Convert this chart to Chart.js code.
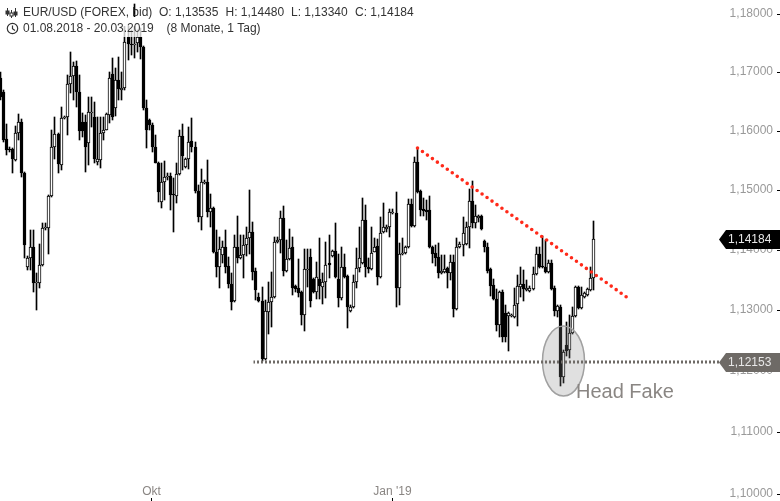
<!DOCTYPE html>
<html>
<head>
<meta charset="utf-8">
<title>EUR/USD</title>
<script src="https://cdn.jsdelivr.net/npm/chart.js@4/dist/chart.umd.js"></script>
<style>
    html, body { margin: 0; padding: 0; background: #fff; }
    canvas { display: block; }
</style>
</head>
<body>
<canvas id="chart" width="780" height="501"></canvas>
<script>
// daily candles, 01.08.2018 - 20.03.2019
var opens = [
    1.1690,1.1667,1.1587,1.1570,1.1570,1.1551,1.1597,1.1616,1.1529,1.1372,
    1.1387,1.1405,1.1345,1.1345,1.1375,1.1437,1.1437,1.1490,1.1573,1.1595,
    1.1543,1.1622,1.1624,1.1680,1.1694,1.1711,1.1667,1.1616,1.1616,1.1580,
    1.1631,1.1624,1.1548,1.1551,1.1597,1.1602,1.1628,1.1697,1.1639,1.1687,
    1.1670,1.1673,1.1761,1.1749,1.1747,1.1751,1.1761,1.1744,1.1639,1.1619,
    1.1611,1.1573,1.1546,1.1480,1.1514,1.1522,1.1524,1.1494,1.1490,1.1528,
    1.1592,1.1539,1.1553,1.1583,1.1573,1.1499,1.1455,1.1512,1.1514,1.1464,
    1.1470,1.1397,1.1372,1.1392,1.1405,1.1373,1.1344,1.1315,1.1405,1.1387,
    1.1392,1.1408,1.1420,1.1430,1.1365,1.1322,1.1315,1.1220,1.1297,1.1314,
    1.1322,1.1413,1.1417,1.1454,1.1365,1.1385,1.1405,1.1340,1.1337,1.1330,
    1.1292,1.1367,1.1388,1.1352,1.1330,1.1352,1.1339,1.1347,1.1378,1.1390,
    1.1398,1.1352,1.1320,1.1372,1.1357,1.1299,1.1305,1.1347,1.1370,1.1378,
    1.1450,1.1372,1.1368,1.1397,1.1407,1.1355,1.1430,1.1435,1.1439,1.1462,
    1.1462,1.1337,1.1393,1.1395,1.1405,1.1477,1.1440,1.1548,1.1499,1.1469,
    1.1467,1.1467,1.1405,1.1395,1.1388,1.1362,1.1363,1.1370,1.1362,1.1380,
    1.1302,1.1405,1.1408,1.1410,1.1439,1.1482,1.1445,1.1454,1.1457,1.1415,
    1.1405,1.1368,1.1342,1.1319,1.1276,1.1330,1.1296,1.1291,1.1291,1.1289,
    1.1310,1.1339,1.1344,1.1334,1.1332,1.1335,1.1360,1.1393,1.1373,1.1372,
    1.1363,1.1378,1.1337,1.1299,1.1305,1.1191,1.1243,1.1235,1.1263,1.1291,
    1.1339,1.1304,1.1322,1.1325,1.1334,1.13535
];
var highs = [
    1.1701,1.1670,1.1612,1.1573,1.1571,1.1609,1.1629,1.1621,1.1531,1.1390,
    1.1433,1.1433,1.1362,1.1410,1.1445,1.1445,1.1492,1.1602,1.1624,1.1597,
    1.1641,1.1626,1.1696,1.1735,1.1718,1.1720,1.1696,1.1631,1.1628,1.1658,
    1.1658,1.1650,1.1624,1.1624,1.1624,1.1631,1.1701,1.1725,1.1708,1.1726,
    1.1701,1.1781,1.1781,1.1773,1.1818,1.1773,1.1777,1.1745,1.1653,1.1620,
    1.1614,1.1593,1.1547,1.1546,1.1549,1.1529,1.1529,1.1521,1.1546,1.1602,
    1.1612,1.1555,1.1607,1.1622,1.1582,1.1509,1.1536,1.1517,1.1551,1.1494,
    1.1472,1.1433,1.1422,1.1415,1.1433,1.1388,1.1362,1.1425,1.1457,1.1425,
    1.1425,1.1439,1.1500,1.1447,1.1370,1.1329,1.1339,1.1317,1.1347,1.1363,
    1.1422,1.1422,1.1465,1.1474,1.1417,1.1435,1.1422,1.1342,1.1385,1.1332,
    1.1402,1.1402,1.1402,1.1353,1.1380,1.1420,1.1362,1.1413,1.1425,1.1400,
    1.1445,1.1393,1.1405,1.1393,1.1359,1.1309,1.1359,1.1403,1.1439,1.1487,
    1.1475,1.1387,1.1439,1.1420,1.1418,1.1455,1.1479,1.1442,1.1469,1.1469,
    1.1497,1.1412,1.1420,1.1407,1.1485,1.1485,1.1556,1.1571,1.1500,1.1487,
    1.1484,1.1490,1.1407,1.1408,1.1412,1.1392,1.1392,1.1372,1.1392,1.1392,
    1.1420,1.1413,1.1455,1.1447,1.1502,1.1516,1.1475,1.1459,1.1459,1.1417,
    1.1412,1.1370,1.1352,1.1335,1.1332,1.1334,1.1309,1.1297,1.1294,1.1337,
    1.1359,1.1372,1.1367,1.1350,1.1340,1.1372,1.1405,1.1405,1.1423,1.1417,
    1.1383,1.1383,1.1340,1.1309,1.1309,1.1235,1.1280,1.1292,1.1305,1.1340,
    1.1340,1.1339,1.1330,1.1337,1.1372,1.14480
];
var lows = [
    1.1653,1.1582,1.1560,1.1565,1.1529,1.1549,1.1585,1.1522,1.1387,1.1367,
    1.1367,1.1330,1.1300,1.1337,1.1373,1.1433,1.1393,1.1489,1.1553,1.1529,
    1.1534,1.1621,1.1593,1.1665,1.1653,1.1641,1.1585,1.1590,1.1531,1.1543,
    1.1607,1.1546,1.1543,1.1538,1.1585,1.1602,1.1614,1.1619,1.1626,1.1653,
    1.1653,1.1670,1.1721,1.1730,1.1725,1.1735,1.1723,1.1636,1.1571,1.1602,
    1.1565,1.1546,1.1480,1.1470,1.1484,1.1517,1.1467,1.1430,1.1479,1.1526,
    1.1534,1.1538,1.1536,1.1565,1.1495,1.1447,1.1433,1.1511,1.1455,1.1439,
    1.1395,1.1355,1.1337,1.1378,1.1362,1.1337,1.1300,1.1314,1.1378,1.1385,
    1.1354,1.1390,1.1393,1.1350,1.1317,1.1314,1.1217,1.1218,1.1261,1.1273,
    1.1320,1.1412,1.1395,1.1357,1.1363,1.1383,1.1325,1.1330,1.1322,1.1276,
    1.1266,1.1339,1.1305,1.1329,1.1319,1.1319,1.1310,1.1320,1.1354,1.1388,
    1.1354,1.1305,1.1317,1.1354,1.1271,1.1297,1.1304,1.1337,1.1363,1.1377,
    1.1355,1.1362,1.1367,1.1397,1.1342,1.1354,1.1429,1.1430,1.1422,1.1460,
    1.1305,1.1309,1.1392,1.1393,1.1403,1.1439,1.1439,1.1495,1.1457,1.1457,
    1.1450,1.1403,1.1378,1.1373,1.1354,1.1360,1.1362,1.1337,1.1350,1.1289,
    1.1300,1.1403,1.1390,1.1408,1.1403,1.1437,1.1437,1.1447,1.1433,1.1397,
    1.1362,1.1324,1.1317,1.1266,1.1256,1.1248,1.1248,1.1233,1.1289,1.1287,
    1.1274,1.1322,1.1315,1.1332,1.1330,1.1334,1.1359,1.1370,1.1370,1.1362,
    1.1362,1.1334,1.1291,1.1289,1.1176,1.1181,1.1225,1.1222,1.1261,1.1289,
    1.1302,1.1302,1.1320,1.1324,1.1332,1.13340
];
var closes = [
    1.1658,1.1585,1.1568,1.1568,1.1553,1.1597,1.1616,1.1529,1.1408,1.1387,
    1.1405,1.1345,1.1347,1.1375,1.1437,1.1439,1.1490,1.1573,1.1595,1.1544,
    1.1622,1.1624,1.1680,1.1694,1.1711,1.1667,1.1600,1.1600,1.1573,1.1633,
    1.1633,1.1553,1.1553,1.1597,1.1602,1.1629,1.1690,1.1624,1.1687,1.1672,
    1.1673,1.1752,1.1749,1.1747,1.1749,1.1761,1.1744,1.1639,1.1602,1.1611,
    1.1573,1.1546,1.1497,1.1514,1.1522,1.1524,1.1492,1.1492,1.1528,1.1592,
    1.1558,1.1553,1.1582,1.1573,1.1499,1.1455,1.1514,1.1514,1.1464,1.1470,
    1.1397,1.1372,1.1402,1.1405,1.1372,1.1344,1.1314,1.1405,1.1387,1.1392,
    1.1408,1.1420,1.1430,1.1363,1.1334,1.1315,1.1220,1.1299,1.1314,1.1322,
    1.1413,1.1417,1.1454,1.1365,1.1385,1.1403,1.1337,1.1335,1.1329,1.1292,
    1.1368,1.1368,1.1315,1.1330,1.1355,1.1340,1.1347,1.1375,1.1375,1.1398,
    1.1355,1.1320,1.1372,1.1355,1.1305,1.1305,1.1347,1.1370,1.1387,1.1450,
    1.1372,1.1368,1.1395,1.1405,1.1355,1.1428,1.1439,1.1439,1.1464,1.1464,
    1.1337,1.1393,1.1395,1.1405,1.1477,1.1440,1.1548,1.1497,1.1467,1.1465,
    1.1464,1.1405,1.1393,1.1387,1.1362,1.1365,1.1368,1.1362,1.1380,1.1302,
    1.1405,1.1410,1.1428,1.1439,1.1482,1.1445,1.1457,1.1457,1.1435,1.1405,
    1.1365,1.1340,1.1319,1.1276,1.1330,1.1256,1.1256,1.1296,1.1292,1.1309,
    1.1340,1.1344,1.1335,1.1337,1.1337,1.1360,1.1393,1.1372,1.1372,1.1363,
    1.1378,1.1335,1.1299,1.1307,1.1191,1.1232,1.1233,1.1263,1.1291,1.1339,
    1.1304,1.1325,1.1329,1.1335,1.1354,1.14184
];

var yTicks = [1.18, 1.17, 1.16, 1.15, 1.14, 1.13, 1.12, 1.11, 1.10];
var xTickIndex = [49.7, 129];
var xTickLabels = ['Okt', "Jan '19"];

var lastClose = 1.14184;
var headFakeLevel = 1.12153;
// [candle index, price] of the two drawn lines
var trendLine = [[137.06, 1.1571], [205.6, 1.1322]];
var levelLine = [[83.2, headFakeLevel], [236.6, headFakeLevel]];
var headFakeCircle = [185, 1.1217];

function fmt(v) {
    return v.toFixed(5).replace('.', ',');
}

// scales that snap to whole pixels, the reference has no soft edges
class PixelLinear extends Chart.LinearScale {
    getPixelForValue(v) {
        return Math.round(super.getPixelForValue(v)) + 0.5;
    }
}
PixelLinear.id = 'pixelLinear';
PixelLinear.defaults = Chart.LinearScale.defaults;

class PixelLog extends Chart.LogarithmicScale {
    getPixelForValue(v) {
        return Math.round(super.getPixelForValue(v));
    }
}
PixelLog.id = 'pixelLog';
PixelLog.defaults = Chart.LogarithmicScale.defaults;

Chart.register(PixelLinear, PixelLog);

var bodies = opens.map(function (o, i) {
    return { x: i, y: [Math.min(o, closes[i]), Math.max(o, closes[i])] };
});
var wicks = highs.map(function (h, i) {
    return { x: i, y: [lows[i], h] };
});
var bodyFill = opens.map(function (o, i) {
    return closes[i] >= o ? '#ffffff' : '#000000';
});

function toPoints(line) {
    return line.map(function (p) { return { x: p[0], y: p[1] }; });
}

function flag(ctx, y, color, text) {
    ctx.fillStyle = color;
    ctx.beginPath();
    ctx.moveTo(719, y);
    ctx.lineTo(726, y - 9.5);
    ctx.lineTo(780, y - 9.5);
    ctx.lineTo(780, y + 9.5);
    ctx.lineTo(726, y + 9.5);
    ctx.closePath();
    ctx.fill();
    ctx.fillStyle = '#e8e8e8';
    ctx.textAlign = 'left';
    ctx.textBaseline = 'middle';
    ctx.font = '12px "Liberation Sans"';
    ctx.fillText(text, 728, y + 0.5);
}

function drawIcons(ctx) {
    ctx.strokeStyle = '#333';
    ctx.fillStyle = '#333';
    ctx.lineWidth = 1;
    // candle icon
    [[7.5, 9, 11, 14], [11.5, 11, 13, 16], [15.5, 9, 12, 15]].forEach(function (c, i) {
        ctx.beginPath();
        ctx.moveTo(c[0], c[1] - 1);
        ctx.lineTo(c[0], c[3] + 2);
        ctx.stroke();
        ctx.fillStyle = i === 1 ? '#fff' : '#333';
        ctx.fillRect(c[0] - 1.5, c[2], 3, c[3] - c[2]);
        ctx.strokeRect(c[0] - 1.5, c[2], 3, c[3] - c[2]);
    });
    // clock icon
    ctx.lineWidth = 1.2;
    ctx.beginPath();
    ctx.arc(12.5, 28.5, 5.2, 0, Math.PI * 2);
    ctx.stroke();
    ctx.beginPath();
    ctx.moveTo(12.5, 25.5);
    ctx.lineTo(12.5, 28.8);
    ctx.lineTo(15, 30.5);
    ctx.stroke();
}

var overlay = {
    id: 'overlay',
    beforeDatasetDraw: function (chart, args) {
        // the circle sits over the candles, under the dotted level
        if (args.index !== 1) return;
        var ctx = chart.ctx;
        var cx = chart.scales.x.getPixelForValue(headFakeCircle[0]);
        var cy = chart.scales.y.getPixelForValue(headFakeCircle[1]);
        ctx.save();
        ctx.beginPath();
        ctx.ellipse(cx, cy, 21, 35, 0, 0, Math.PI * 2);
        ctx.fillStyle = 'rgba(130,130,130,0.25)';
        ctx.fill();
        ctx.lineWidth = 1.5;
        ctx.strokeStyle = '#a0a0a0';
        ctx.stroke();
        ctx.restore();
    },
    afterDraw: function (chart) {
        var ctx = chart.ctx;
        var y = chart.scales.y;
        ctx.save();

        // header sits on a white veil, wicks fade out behind it
        ctx.fillStyle = '#ffffff';
        ctx.fillRect(0, 17, 265, 9);
        ctx.fillStyle = 'rgba(255,255,255,0.75)';
        ctx.fillRect(0, 26, 265, 11);

        drawIcons(ctx);
        ctx.fillStyle = '#333';
        ctx.textAlign = 'left';
        ctx.textBaseline = 'middle';
        ctx.font = '12px "Liberation Sans"';
        ctx.fillText('EUR/USD (FOREX, bid)', 23, 13);
        ctx.fillText('O: ' + fmt(opens[opens.length - 1]), 159, 13);
        ctx.fillText('H: ' + fmt(highs[highs.length - 1]), 225.5, 13);
        ctx.fillText('L: ' + fmt(lows[lows.length - 1]), 291, 13);
        ctx.fillText('C: ' + fmt(closes[closes.length - 1]), 355, 13);
        ctx.fillText('01.08.2018 - 20.03.2019', 23, 29);
        ctx.fillText('(8 Monate, 1 Tag)', 166.5, 29);

        ctx.fillStyle = '#8a8683';
        ctx.font = '20px "Liberation Sans"';
        ctx.textBaseline = 'alphabetic';
        ctx.fillText('Head Fake', 576, 398);

        flag(ctx, y.getPixelForValue(lastClose) + 0.5, '#000000', fmt(lastClose));
        flag(ctx, y.getPixelForValue(headFakeLevel) + 0.5, '#6e6a66', fmt(headFakeLevel));
        ctx.restore();
    }
};

new Chart(document.getElementById('chart'), {
    type: 'bar',
    data: {
        datasets: [
            {
                type: 'line',
                label: 'Trend',
                data: toPoints(trendLine),
                borderColor: '#ff2a1a',
                borderWidth: 3.6,
                borderDash: [0, 6.1],
                borderCapStyle: 'round',
                pointRadius: 0,
                order: 1
            },
            {
                type: 'line',
                label: 'Level',
                data: toPoints(levelLine),
                borderColor: '#6e6a66',
                borderWidth: 3,
                borderDash: [2, 2],
                borderDashOffset: 0.5,
                pointRadius: 0,
                order: 2
            },
            {
                label: 'Body',
                data: bodies,
                backgroundColor: bodyFill,
                borderColor: '#000000',
                borderWidth: 1,
                borderSkipped: false,
                barThickness: 3,
                minBarLength: 1,
                grouped: false,
                order: 3
            },
            {
                label: 'Wick',
                data: wicks,
                backgroundColor: '#000000',
                borderWidth: 0,
                barThickness: 1,
                grouped: false,
                order: 4
            }
        ]
    },
    options: {
        responsive: false,
        animation: false,
        devicePixelRatio: 1,
        layout: { padding: 0 },
        plugins: { legend: { display: false }, tooltip: { enabled: false } },
        scales: {
            x: {
                type: 'pixelLinear',
                position: 'bottom',
                offset: false,
                min: 0.115,
                max: 255.28,
                border: { display: false },
                grid: { offset: false, drawOnChartArea: false, tickLength: 3, tickColor: '#000000' },
                afterBuildTicks: function (axis) {
                    axis.ticks = xTickIndex.map(function (v) { return { value: v }; });
                },
                afterFit: function (axis) {
                    axis.height = 3;
                    axis.paddingLeft = 0;
                    axis.paddingRight = 0;
                },
                ticks: {
                    // mirror keeps the labels out of the axis clip box
                    mirror: true,
                    autoSkip: false,
                    maxRotation: 0,
                    padding: -1,
                    color: '#8a8683',
                    font: { family: 'Liberation Sans', size: 12 },
                    callback: function (v) {
                        return xTickLabels[xTickIndex.indexOf(v)];
                    }
                }
            },
            y: {
                type: 'pixelLog',
                position: 'right',
                min: 1.09941,
                max: 1.18245,
                border: { display: false },
                grid: { drawOnChartArea: false, tickLength: 3, tickColor: '#000000' },
                afterBuildTicks: function (axis) {
                    axis.ticks = yTicks.map(function (v) { return { value: v }; });
                },
                afterFit: function (axis) {
                    axis.width = 3;
                    axis.paddingTop = 0;
                    axis.paddingBottom = 0;
                },
                ticks: {
                    mirror: true,
                    autoSkip: false,
                    padding: -4,
                    color: '#999999',
                    font: { family: 'Liberation Sans', size: 12 },
                    callback: function (v) { return fmt(v); }
                }
            }
        }
    },
    plugins: [overlay]
});
</script>
</body>
</html>
